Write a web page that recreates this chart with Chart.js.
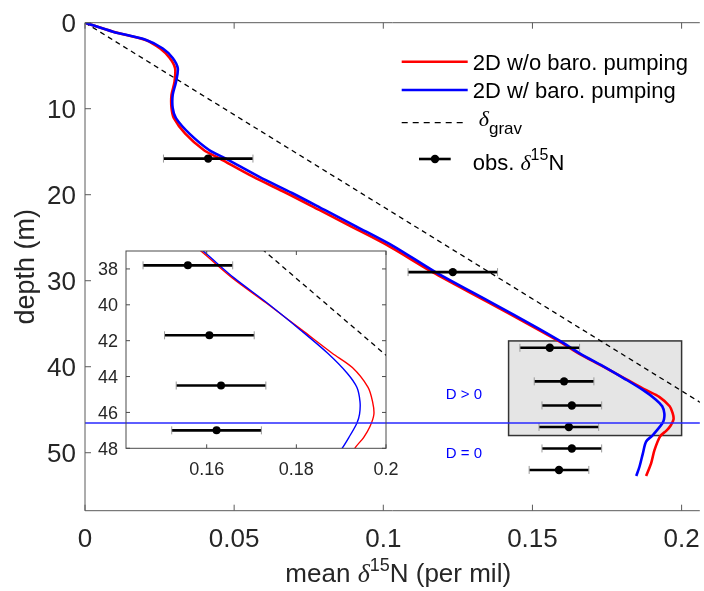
<!DOCTYPE html>
<html>
<head>
<meta charset="utf-8">
<script src="https://cdn.jsdelivr.net/npm/chart.js@4.4.1/dist/chart.umd.min.js"></script>
<style>
  html, body { margin: 0; padding: 0; background: #fff; overflow: hidden; }
  #wrap { position: relative; width: 704px; height: 591px; }
  #mainChart { position: absolute; left: 0; top: 0; }
  #insetChart { position: absolute; left: 80px; top: 240px; }
</style>
</head>
<body>
<div id="wrap">
  <canvas id="mainChart" width="704" height="591"></canvas>
  <canvas id="insetChart" width="320" height="250"></canvas>
</div>
<script>
// model run without barometric pumping (red)
const redDepth = [0, 1.05, 2.0, 3.0, 4.1, 5.3, 6.9, 8.4, 9.9, 11.1, 12.9, 14.8, 15.8, 17.9, 19.8, 21.8, 23.7, 26.0, 29.0, 32.4, 35.5, 37.0, 38.5, 39.9, 41.4, 42.7, 43.5, 44.6, 45.4, 46.1, 46.8, 47.4, 48.1, 49.7, 51.2, 52.7];
const redValue = [0, 0.0094, 0.0203, 0.0252, 0.0284, 0.0302, 0.0300, 0.0290, 0.0290, 0.0298, 0.0336, 0.0398, 0.0452, 0.0563, 0.0675, 0.0787, 0.0893, 0.1020, 0.1165, 0.1346, 0.1510, 0.1587, 0.1657, 0.1733, 0.1812, 0.1880, 0.1925, 0.1960, 0.1970, 0.1973, 0.1964, 0.1950, 0.1928, 0.1909, 0.1898, 0.1881];

// model run with barometric pumping (blue)
const blueDepth = [0, 1.05, 2.0, 3.0, 4.1, 5.3, 6.9, 8.4, 9.9, 11.1, 12.9, 14.8, 15.8, 17.9, 19.8, 21.8, 23.7, 26.0, 29.0, 32.4, 35.5, 37.0, 38.5, 39.9, 41.4, 42.7, 43.8, 44.6, 45.4, 46.1, 46.6, 47.4, 48.0, 48.7, 50.1, 51.6, 52.7];
const blueValue = [0, 0.0094, 0.0205, 0.0261, 0.0294, 0.0311, 0.0305, 0.0294, 0.0294, 0.0305, 0.0350, 0.0416, 0.0472, 0.0583, 0.0694, 0.0805, 0.0910, 0.1035, 0.1175, 0.1355, 0.1518, 0.1592, 0.1661, 0.1735, 0.1809, 0.1870, 0.1913, 0.1935, 0.1942, 0.1941, 0.1935, 0.1917, 0.1902, 0.1881, 0.1870, 0.1859, 0.1848];

// gravitational enrichment line
const gravDepth = [0, 50];
const gravValue = [0, 0.2336];

// observed d15N with error bars
const obsDepth = [15.8, 29.0, 37.8, 41.7, 44.5, 47.0, 49.5, 52.0];
const obsValue = [0.0413, 0.1233, 0.1558, 0.1606, 0.1632, 0.1622, 0.1632, 0.1589];
const obsErr = [0.015, 0.015, 0.01, 0.01, 0.01, 0.01, 0.01, 0.01];

// diffusivity boundary depth
const boundaryDepth = 46.6;

// axes
const xTicks = [0, 0.05, 0.1, 0.15, 0.2];
const xTickLabels = ["0", "0.05", "0.1", "0.15", "0.2"];
const yTicks = [0, 10, 20, 30, 40, 50];
const insetXRange = [0.142, 0.2];
const insetDepthRange = [37, 48];
const insetXTicks = [0.16, 0.18, 0.2];
const insetXTickLabels = ["0.16", "0.18", "0.2"];
const insetYTicks = [38, 40, 42, 44, 46, 48];

const SANS = '"Liberation Sans", Arial, Helvetica, sans-serif';
const SERIF = '"Liberation Serif", "Times New Roman", serif';
const TEXT = "#262626";

function toPoints(depths, values) {
    return depths.map((d, i) => ({ x: values[i], y: d }));
}

function makeDatasets(lw, dotR) {
    return [
        {
            label: "obs",
            data: toPoints(obsDepth, obsValue),
            showLine: false,
            pointRadius: dotR,
            pointBackgroundColor: "#000",
            pointBorderWidth: 0,
            order: 0,
        },
        {
            label: "2D w/ baro. pumping",
            data: toPoints(blueDepth, blueValue),
            showLine: true,
            borderColor: "#0000ff",
            borderWidth: lw,
            pointRadius: 0,
            tension: 0.3,
            order: 1,
        },
        {
            label: "2D w/o baro. pumping",
            data: toPoints(redDepth, redValue),
            showLine: true,
            borderColor: "#ff0000",
            borderWidth: lw,
            pointRadius: 0,
            tension: 0.3,
            order: 2,
        },
        {
            label: "grav",
            data: toPoints(gravDepth, gravValue),
            showLine: true,
            borderColor: "#000",
            borderWidth: 1.3,
            borderDash: [5, 4],
            pointRadius: 0,
            order: 3,
        },
    ];
}

function drawErrorBars(chart, lw, cap) {
    const { ctx, chartArea: a, scales: { x, y } } = chart;
    ctx.save();
    ctx.beginPath();
    ctx.rect(a.left, a.top, a.right - a.left, a.bottom - a.top);
    ctx.clip();
    obsDepth.forEach((d, i) => {
        const py = y.getPixelForValue(d);
        const xl = x.getPixelForValue(obsValue[i] - obsErr[i]);
        const xr = x.getPixelForValue(obsValue[i] + obsErr[i]);
        ctx.strokeStyle = "#000";
        ctx.lineWidth = lw;
        ctx.beginPath();
        ctx.moveTo(xl, py);
        ctx.lineTo(xr, py);
        ctx.stroke();
        ctx.strokeStyle = "#9a9a9a";
        ctx.lineWidth = 1;
        ctx.beginPath();
        ctx.moveTo(xl, py - cap);
        ctx.lineTo(xl, py + cap);
        ctx.moveTo(xr, py - cap);
        ctx.lineTo(xr, py + cap);
        ctx.stroke();
    });
    ctx.restore();
}

// draws a run of text pieces with their own fonts and vertical shifts
function drawRich(ctx, parts, x, y, align) {
    let total = 0;
    parts.forEach((p) => {
        ctx.font = p.font;
        total += ctx.measureText(p.text).width;
    });
    let cx = align === "center" ? x - total / 2 : x;
    ctx.textAlign = "left";
    parts.forEach((p) => {
        ctx.font = p.font;
        ctx.fillText(p.text, cx, y + (p.dy || 0));
        cx += ctx.measureText(p.text).width;
    });
}

function drawBoundary(chart) {
    const { ctx, chartArea: a, scales: { y } } = chart;
    const by = Math.round(y.getPixelForValue(boundaryDepth));
    ctx.save();
    ctx.strokeStyle = "rgb(40, 40, 255)";
    ctx.lineWidth = 1.5;
    ctx.beginPath();
    ctx.moveTo(a.left, by);
    ctx.lineTo(a.right, by);
    ctx.stroke();
    ctx.restore();
}

function drawLegend(ctx) {
    const x0 = 401.7, x1 = 467.7, tx = 472.7;
    ctx.save();
    ctx.lineWidth = 2.5;
    ctx.strokeStyle = "#ff0000";
    ctx.beginPath(); ctx.moveTo(x0, 61.7); ctx.lineTo(x1, 61.7); ctx.stroke();
    ctx.strokeStyle = "#0000ff";
    ctx.beginPath(); ctx.moveTo(x0, 90); ctx.lineTo(x1, 90); ctx.stroke();
    ctx.strokeStyle = "#000";
    ctx.lineWidth = 1.3;
    ctx.setLineDash([6, 5]);
    ctx.beginPath(); ctx.moveTo(x0, 122.7); ctx.lineTo(x1, 122.7); ctx.stroke();
    ctx.setLineDash([]);
    ctx.lineWidth = 2.6;
    ctx.beginPath(); ctx.moveTo(419, 159); ctx.lineTo(450.7, 159); ctx.stroke();
    ctx.fillStyle = "#000";
    ctx.beginPath(); ctx.arc(435, 159, 4.2, 0, Math.PI * 2); ctx.fill();

    ctx.fillStyle = "#000";
    ctx.textBaseline = "alphabetic";
    ctx.textAlign = "left";
    ctx.font = "22px " + SANS;
    ctx.fillText("2D w/o baro. pumping", tx, 70);
    ctx.fillText("2D w/ baro. pumping", tx, 98.3);
    drawRich(ctx, [
        { text: "\u03b4", font: "italic 22px " + SERIF },
        { text: "grav", font: "17px " + SANS, dy: 8 },
    ], tx + 6, 126, "left");
    drawRich(ctx, [
        { text: "obs. ", font: "22px " + SANS },
        { text: "\u03b4", font: "italic 22px " + SERIF },
        { text: "15", font: "16px " + SANS, dy: -10 },
        { text: "N", font: "22px " + SANS },
    ], tx, 170, "left");
    ctx.restore();
}

const mainFrame = {
    id: "mainFrame",
    beforeDatasetsDraw(chart) {
        const { ctx, scales: { x, y } } = chart;
        const l = x.getPixelForValue(insetXRange[0]);
        const r = x.getPixelForValue(insetXRange[1]);
        const t = y.getPixelForValue(insetDepthRange[0]);
        const b = y.getPixelForValue(insetDepthRange[1]);
        ctx.save();
        ctx.fillStyle = "#e5e5e5";
        ctx.fillRect(l, t, r - l, b - t);
        ctx.strokeStyle = "#333";
        ctx.lineWidth = 1.5;
        ctx.strokeRect(l, t, r - l, b - t);
        ctx.restore();
    },
    beforeDatasetDraw(chart, args) {
        if (args.index === 0) drawErrorBars(chart, 2.6, 4);
    },
    afterDraw(chart) {
        const { ctx, chartArea: a, scales: { x, y } } = chart;
        drawBoundary(chart);
        ctx.save();
        ctx.fillStyle = "#0000ff";
        ctx.font = "15px " + SANS;
        ctx.textAlign = "left";
        ctx.textBaseline = "middle";
        ctx.fillText("D > 0", 445.7, 395);
        ctx.fillText("D = 0", 445.7, 454.3);

        // axes box (left, top, bottom)
        ctx.strokeStyle = "#5a5a5a";
        ctx.lineWidth = 1;
        ctx.beginPath();
        ctx.moveTo(a.right, a.top); ctx.lineTo(a.left, a.top);
        ctx.lineTo(a.left, a.bottom); ctx.lineTo(a.right, a.bottom);
        ctx.stroke();
        ctx.beginPath();
        xTicks.forEach((t) => {
            const px = x.getPixelForValue(t);
            ctx.moveTo(px, a.bottom); ctx.lineTo(px, a.bottom - 6);
            ctx.moveTo(px, a.top); ctx.lineTo(px, a.top + 6);
        });
        yTicks.forEach((t) => {
            const py = y.getPixelForValue(t);
            ctx.moveTo(a.left, py); ctx.lineTo(a.left + 6, py);
        });
        ctx.stroke();

        // tick labels
        ctx.fillStyle = TEXT;
        ctx.font = "26px " + SANS;
        ctx.textBaseline = "alphabetic";
        ctx.textAlign = "center";
        xTicks.forEach((t, i) => {
            ctx.fillText(xTickLabels[i], x.getPixelForValue(t), a.bottom + 36.6);
        });
        ctx.textAlign = "right";
        yTicks.forEach((t) => {
            ctx.fillText(String(t), a.left - 9, y.getPixelForValue(t) + 9.3);
        });

        // axis titles
        drawRich(ctx, [
            { text: "mean ", font: "26px " + SANS },
            { text: "\u03b4", font: "italic 26px " + SERIF },
            { text: "15", font: "18px " + SANS, dy: -11 },
            { text: "N (per mil)", font: "26px " + SANS },
        ], x.getPixelForValue(0.105), 582, "center");
        ctx.save();
        ctx.translate(34, (a.top + a.bottom) / 2);
        ctx.rotate(-Math.PI / 2);
        ctx.font = "27px " + SANS;
        ctx.textAlign = "center";
        ctx.fillText("depth (m)", 0, 0);
        ctx.restore();

        drawLegend(ctx);
        ctx.restore();
    },
};

const insetFrame = {
    id: "insetFrame",
    beforeDraw(chart) {
        const { ctx, chartArea: a } = chart;
        ctx.save();
        ctx.fillStyle = "#fff";
        ctx.fillRect(a.left, a.top, a.right - a.left, a.bottom - a.top);
        ctx.restore();
    },
    beforeDatasetDraw(chart, args) {
        if (args.index === 0) drawErrorBars(chart, 2.6, 4);
    },
    afterDraw(chart) {
        const { ctx, chartArea: a, scales: { x, y } } = chart;
        drawBoundary(chart);
        ctx.save();
        ctx.strokeStyle = "#4a4a4a";
        ctx.lineWidth = 1;
        ctx.strokeRect(a.left, a.top, a.right - a.left, a.bottom - a.top);
        ctx.beginPath();
        insetXTicks.forEach((t) => {
            const px = x.getPixelForValue(t);
            ctx.moveTo(px, a.bottom); ctx.lineTo(px, a.bottom - 4);
            ctx.moveTo(px, a.top); ctx.lineTo(px, a.top + 4);
        });
        insetYTicks.forEach((t) => {
            const py = y.getPixelForValue(t);
            ctx.moveTo(a.left, py); ctx.lineTo(a.left + 4, py);
            ctx.moveTo(a.right, py); ctx.lineTo(a.right - 4, py);
        });
        ctx.stroke();

        ctx.fillStyle = TEXT;
        ctx.font = "18px " + SANS;
        ctx.textBaseline = "alphabetic";
        ctx.textAlign = "center";
        insetXTicks.forEach((t, i) => {
            ctx.fillText(insetXTickLabels[i], x.getPixelForValue(t), a.bottom + 27);
        });
        ctx.textAlign = "right";
        insetYTicks.forEach((t) => {
            ctx.fillText(String(t), a.left - 8, y.getPixelForValue(t) + 6.5);
        });
        ctx.restore();
    },
};

function hiddenScale(extra) {
    return Object.assign({
        type: "linear",
        grid: { display: false },
        border: { display: false },
        ticks: { display: false },
    }, extra);
}

new Chart(document.getElementById("mainChart"), {
    type: "scatter",
    data: { datasets: makeDatasets(2.6, 4.2) },
    options: {
        responsive: false,
        animation: false,
        devicePixelRatio: 1,
        layout: { padding: { left: 0, top: 22.7, right: 0, bottom: 0 } },
        plugins: { legend: { display: false }, tooltip: { enabled: false } },
        scales: {
            x: hiddenScale({ min: 0, max: 0.2061, afterFit: (s) => { s.height = 80.3; } }),
            y: hiddenScale({ min: 0, max: 56.74, reverse: true, afterFit: (s) => { s.width = 85; } }),
        },
    },
    plugins: [mainFrame],
});

new Chart(document.getElementById("insetChart"), {
    type: "scatter",
    data: { datasets: makeDatasets(1.4, 4.0) },
    options: {
        responsive: false,
        animation: false,
        devicePixelRatio: 1,
        layout: { padding: { left: 0, top: 11, right: 14, bottom: 0 } },
        plugins: { legend: { display: false }, tooltip: { enabled: false } },
        scales: {
            x: hiddenScale({ min: insetXRange[0], max: insetXRange[1], afterFit: (s) => { s.height = 41.7; } }),
            y: hiddenScale({ min: insetDepthRange[0], max: insetDepthRange[1], reverse: true, afterFit: (s) => { s.width = 46; } }),
        },
    },
    plugins: [insetFrame],
});
</script>
</body>
</html>
